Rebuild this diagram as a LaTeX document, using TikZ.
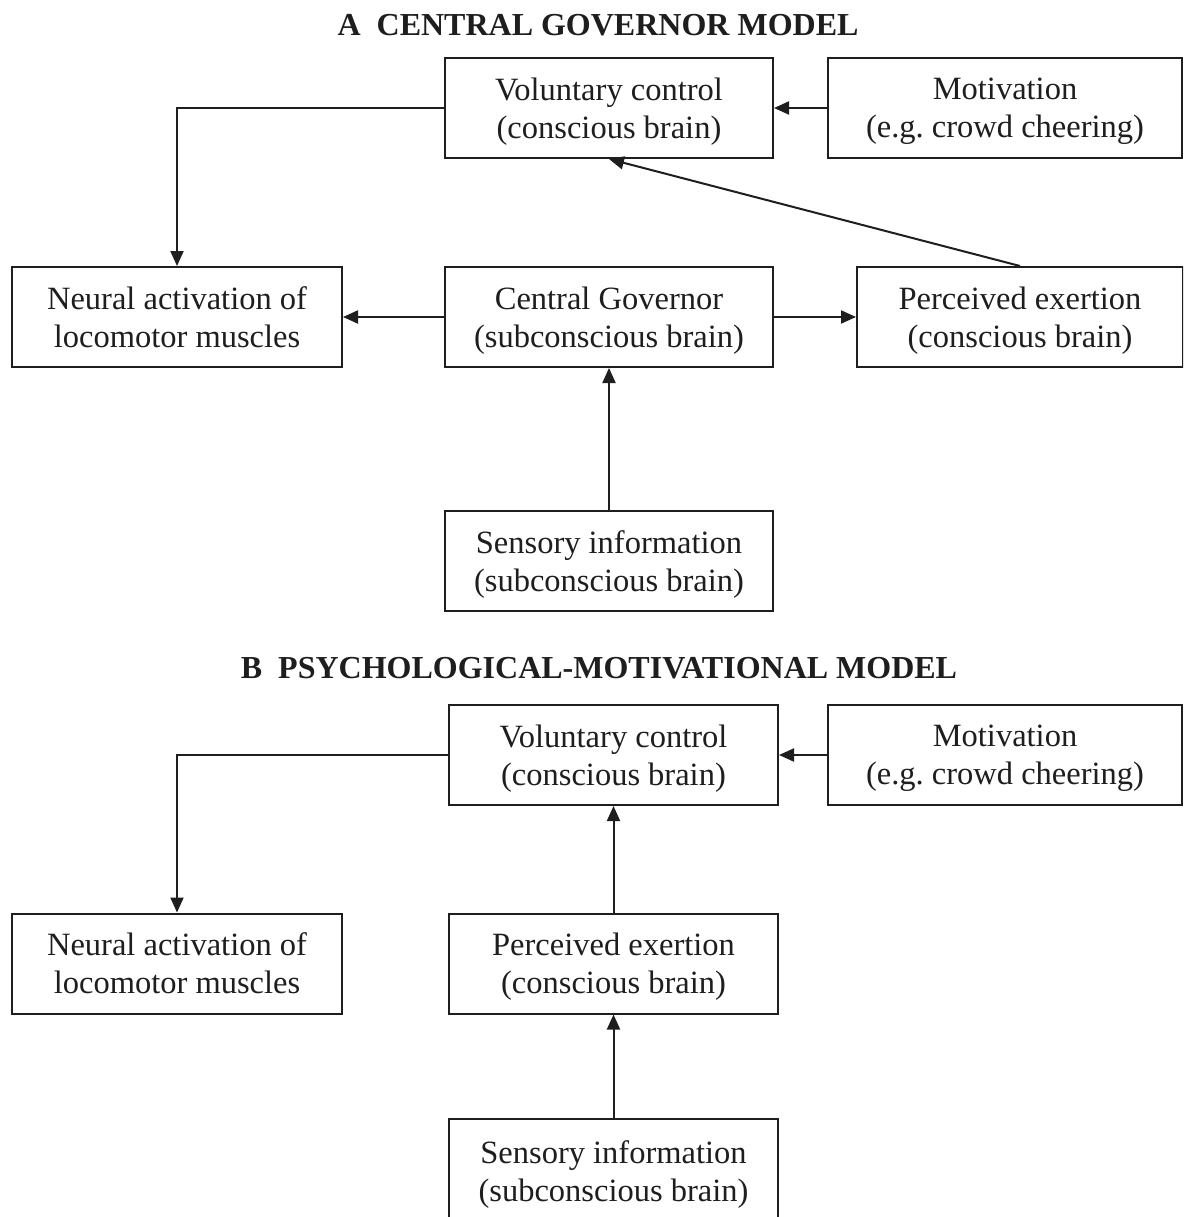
\documentclass[tikz,border=0pt]{standalone}
\usepackage{fontspec}
\setmainfont{Liberation Serif}
\usetikzlibrary{arrows.meta}
\definecolor{ink}{HTML}{1E1E1E}
\frenchspacing
\tikzset{
  box/.style={draw=ink, line width=2pt, text=ink, align=center,
    inner sep=0pt, minimum height=100pt, text depth=-1pt,
    font=\fontsize{32.5}{38}\selectfont},
  heading/.style={text=ink, inner sep=0pt, font=\fontsize{32}{38}\selectfont\bfseries},
  link/.style={draw=ink, line width=2pt, -{Triangle[length=15pt,width=13pt]}}
}
\begin{document}
\begin{tikzpicture}[x=1pt,y=-1pt]
\useasboundingbox (0,0) rectangle (1183,1217);
\clip (0,0) rectangle (1183,1217);
\fill[white] (0,0) rectangle (1183,1217);

% ---- A: central governor model ----
\node[heading] (tA) at (598,25) {A\ \ CENTRAL GOVERNOR MODEL};
\node[box, minimum width=328pt] (volA) at (609,108) {Voluntary control\\(conscious brain)};
\node[box, minimum width=354pt] (motA) at (1005,108) {Motivation\\(e.g. crowd cheering)};
\node[box, minimum width=330pt] (neuA) at (177,317) {Neural activation of\\locomotor muscles};
\node[box, minimum width=328pt] (cgA) at (609,317) {Central Governor\\(subconscious brain)};
\node[box, minimum width=326pt] (perA) at (1020,317) {Perceived exertion\\(conscious brain)};
\node[box, minimum width=328pt] (senA) at (609,561) {Sensory information\\(subconscious brain)};

\draw[link] (volA.west) -| (neuA.north);
\draw[link] (motA.west) -- (volA.east);
\draw[link] (perA.north) -- (volA.south);
\draw[link] (cgA.west) -- (neuA.east);
\draw[link] (cgA.east) -- (perA.west);
\draw[link] (senA.north) -- (cgA.south);

% ---- B: psychological-motivational model ----
\node[heading] (tB) at (599,668) {B\ \ PSYCHOLOGICAL-MOTIVATIONAL MODEL};
\node[box, minimum width=329pt] (volB) at (613.5,755) {Voluntary control\\(conscious brain)};
\node[box, minimum width=354pt] (motB) at (1005,755) {Motivation\\(e.g. crowd cheering)};
\node[box, minimum width=330pt] (neuB) at (177,963.5) {Neural activation of\\locomotor muscles};
\node[box, minimum width=329pt] (perB) at (613.5,963.5) {Perceived exertion\\(conscious brain)};
\node[box, minimum width=329pt, minimum height=104pt] (senB) at (613.5,1171) {Sensory information\\(subconscious brain)};

\draw[link] (volB.west) -| (neuB.north);
\draw[link] (motB.west) -- (volB.east);
\draw[link] (perB.north) -- (volB.south);
\draw[link] (senB.north) -- (perB.south);
\end{tikzpicture}
\end{document}
